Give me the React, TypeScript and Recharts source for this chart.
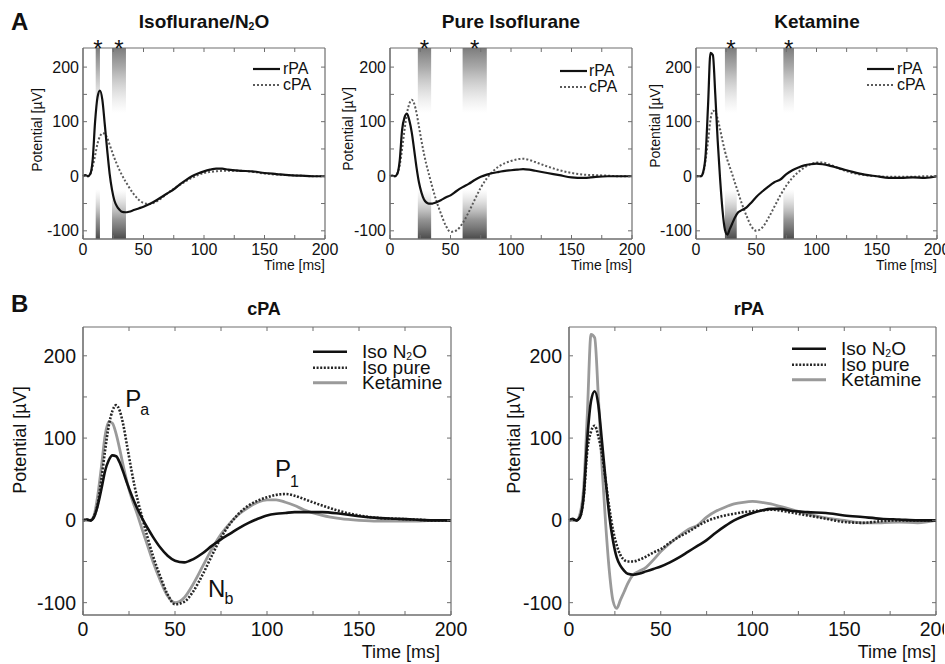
import React from 'react';
import { LineChart, Line, XAxis, YAxis, ReferenceArea, ReferenceDot, ReferenceLine, Legend } from 'recharts';

const FONT = '"Liberation Sans", Arial, Helvetica, sans-serif';

// time axis (ms)
const time = [0, 2, 4, 6, 8, 10, 12, 14, 16, 18, 20, 22, 24, 26, 28, 30, 32, 35, 38, 42, 46, 50, 55, 60, 65, 70, 75, 80, 85, 90, 95, 100, 105, 110, 115, 120, 130, 140, 150, 160, 170, 180, 190, 200];

// caudal (cPA) potentials, µV
const cpaIsoN2O = [0, 1, 0, 4, 18, 38, 60, 73, 79, 78, 70, 58, 45, 33, 22, 12, 3, -9, -20, -33, -43, -49, -51, -47, -40, -31, -23, -16, -9, -3, 2, 6, 8, 9, 10, 10, 10, 8, 5, 3, 2, 1, 0, 0];
const cpaIsoPure = [0, 1, 0, 5, 20, 50, 85, 115, 133, 140, 133, 115, 90, 65, 42, 22, 5, -20, -43, -68, -90, -102, -99, -86, -66, -43, -21, -4, 9, 18, 24, 28, 31, 32, 30, 26, 18, 11, 6, 3, 2, 1, 0, 0];
const cpaKetamine = [0, 0, 0, 6, 30, 65, 103, 120, 118, 105, 86, 65, 46, 30, 17, 4, -10, -30, -50, -73, -92, -100, -94, -77, -56, -35, -17, -3, 8, 16, 22, 25, 25, 22, 18, 13, 6, 2, 0, -1, -1, -1, 0, 0];

// rostral (rPA) potentials, µV
const rpaIsoN2O = [0, 2, 0, 4, 30, 100, 145, 157, 140, 95, 48, 5, -25, -45, -55, -61, -65, -66, -65, -62, -59, -56, -51, -45, -38, -31, -24, -15, -7, 0, 5, 9, 12, 14, 14, 12, 10, 9, 6, 4, 2, 1, 0, 0];
const rpaIsoPure = [0, 1, 0, 4, 28, 85, 108, 115, 102, 80, 48, 15, -12, -30, -42, -48, -50, -50, -48, -44, -39, -35, -27, -20, -14, -7, -1, 3, 6, 8, 10, 11, 12, 13, 12, 10, 6, 2, -2, -3, -1, 0, 0, 0];
const rpaKetamine = [0, 0, 0, 8, 40, 130, 226, 222, 150, 65, -5, -62, -98, -107, -97, -87, -77, -66, -62, -57, -48, -38, -28, -19, -11, -6, 4, 11, 16, 20, 22, 23, 22, 20, 17, 14, 8, 3, 0, -3, -3, -2, -3, 0];

// significant windows (ms) for each condition in panel A
const bandsIsoN2O = [{ x1: 10.5, x2: 14 }, { x1: 24, x2: 35.5 }];
const bandsIsoPure = [{ x1: 23, x2: 34 }, { x1: 60, x2: 80 }];
const bandsKetamine = [{ x1: 24, x2: 33.8 }, { x1: 72.5, x2: 81.3 }];

// peak labels in panel B (cPA)
const cpaNotes = [
  { x: 23, y: 138, main: 'P', sub: 'a', subDy: 8 },
  { x: 104.3, y: 53, main: 'P', sub: '1', subDy: 10 },
  { x: 68, y: -93, main: 'N', sub: 'b', subDy: 7 },
];

const xTicks = [0, 25, 50, 75, 100, 125, 150, 175, 200];
const xLabelTicks = [0, 50, 100, 150, 200];
const yTicks = [-100, -50, 0, 50, 100, 150, 200];
const yLabelTicks = [-100, 0, 100, 200];
const xDomain = [0, 200];
const yDomain = [-115, 235];

const pairRows = (r: number[], c: number[]) => time.map((t, i) => ({ t, rpa: r[i], cpa: c[i] }));
const tripleRows = (a: number[], b: number[], k: number[]) =>
  time.map((t, i) => ({ t, n2o: a[i], pure: b[i], ket: k[i] }));

const N2O = (
  <>
    N<sub style={{ fontSize: '0.55em', lineHeight: 0, verticalAlign: '-0.2em' }}>2</sub>O
  </>
);

type Series = { key: string; label: React.ReactNode; color: string; width: number; dash?: string };

const seriesA: Series[] = [
  { key: 'cpa', label: 'cPA', color: '#5a5a5a', width: 2, dash: '2 2' },
  { key: 'rpa', label: 'rPA', color: '#111', width: 2.2 },
];
const legendA: Series[] = [seriesA[1], seriesA[0]];

const seriesB: Series[] = [
  { key: 'ket', label: 'Ketamine', color: '#9a9a9a', width: 2.8 },
  { key: 'pure', label: 'Iso pure', color: '#262626', width: 2.6, dash: '2 1.6' },
  { key: 'n2o', label: <>Iso {N2O}</>, color: '#111', width: 2.6 },
];
const legendB: Series[] = [seriesB[2], seriesB[1], seriesB[0]];

function LegendBox({ items, fontSize, rowH, lineLen, gap }: any) {
  return (
    <div style={{ fontFamily: FONT, color: '#111' }}>
      {items.map((it: Series) => (
        <div key={it.key} style={{ display: 'flex', alignItems: 'center', height: rowH }}>
          <svg width={lineLen} height={rowH} style={{ display: 'block', flex: 'none' }}>
            <line x1={0} x2={lineLen} y1={rowH / 2} y2={rowH / 2} stroke={it.color} strokeWidth={it.width} strokeDasharray={it.dash} />
          </svg>
          <span style={{ marginLeft: gap, fontSize, lineHeight: `${rowH}px`, whiteSpace: 'nowrap' }}>{it.label}</span>
        </div>
      ))}
    </div>
  );
}

const noteLabel = (main: string, sub: string, subDy: number) => (props: any) => {
  const vb = props.viewBox || props;
  const x = vb.x + (vb.width || 0) / 2;
  const y = vb.y + (vb.height || 0) / 2;
  return (
    <text x={x} y={y} fill="#111" fontSize={24} fontFamily={FONT}>
      <tspan>{main}</tspan>
      <tspan fontSize={16} dx={-1} dy={subDy}>{sub}</tspan>
    </text>
  );
};

interface PanelProps {
  id: string;
  plotLeft: number; plotTop: number; plotW: number; plotH: number;
  yAxisW: number; xAxisH: number; marginRight: number;
  tickFont: number; axisFont: number; xTickMargin: number; yTickMargin: number;
  timeOffset: number;
  data: any[]; series: Series[]; legendItems: Series[];
  bands?: { x1: number; x2: number }[];
  notes?: { x: number; y: number; main: string; sub: string; subDy: number }[];
  legend: { x: number; y: number; fontSize: number; rowH: number; lineLen: number; gap: number };
  yLabel: { x: number; y: number };
}

function Panel(p: PanelProps) {
  const mTop = 20;
  const mBottom = 4;
  const originX = p.plotLeft - p.yAxisW;
  const originY = p.plotTop - mTop;
  const width = p.yAxisW + p.plotW + p.marginRight;
  const height = mTop + p.plotH + p.xAxisH + mBottom;
  const gid = `band-${p.id}`;
  const frame = '#6e6e6e';
  // inward tick length of 4px expressed in data units
  const tickY = (4 * (yDomain[1] - yDomain[0])) / p.plotH;
  const tickX = (4 * (xDomain[1] - xDomain[0])) / p.plotW;
  const innerX = xTicks.filter((t) => t > xDomain[0] && t < xDomain[1]);
  return (
    <div style={{ position: 'absolute', left: originX, top: originY }}>
      <LineChart width={width} height={height} data={p.data} margin={{ top: mTop, right: p.marginRight, bottom: mBottom, left: 0 }}>
        <defs>
          <linearGradient id={gid} x1="0" y1="0" x2="0" y2="1">
            <stop offset="0%" stopColor="#7c7c7c" stopOpacity={1} />
            <stop offset="10%" stopColor="#8c8c8c" stopOpacity={0.75} />
            <stop offset="34%" stopColor="#c0c0c0" stopOpacity={0} />
            <stop offset="74%" stopColor="#b0b0b0" stopOpacity={0} />
            <stop offset="90%" stopColor="#707070" stopOpacity={0.75} />
            <stop offset="100%" stopColor="#4a4a4a" stopOpacity={1} />
          </linearGradient>
        </defs>
        <XAxis
          dataKey="t" type="number" domain={xDomain} ticks={xTicks} interval={0}
          tickFormatter={(v: number) => (xLabelTicks.includes(v) ? String(v) : '')}
          tickSize={-4} tickMargin={p.xTickMargin} height={p.xAxisH} stroke={frame}
          tick={{ fill: '#111', fontSize: p.tickFont, fontFamily: FONT }}
          label={{ value: 'Time [ms]', position: 'insideBottomRight', offset: p.timeOffset, fontSize: p.axisFont, fill: '#111', fontFamily: FONT }}
        />
        <YAxis
          type="number" domain={yDomain} ticks={yTicks} interval={0}
          tickFormatter={(v: number) => (yLabelTicks.includes(v) ? String(v) : '')}
          tickSize={-4} tickMargin={p.yTickMargin} width={p.yAxisW} stroke={frame}
          tick={{ fill: '#111', fontSize: p.tickFont, fontFamily: FONT }}
        />
        {(p.bands || []).map((b, i) => (
          <ReferenceArea
            key={`b${i}`} x1={b.x1} x2={b.x2} y1={yDomain[0]} y2={yDomain[1]}
            fill={`url(#${gid})`} fillOpacity={1} stroke="none"
            label={{ value: '*', position: 'top', offset: -9, fontSize: 24, fill: '#111', fontFamily: FONT }}
          />
        ))}
        {p.series.map((s) => (
          <Line
            key={s.key} type="monotone" dataKey={s.key} stroke={s.color}
            strokeWidth={s.width} strokeDasharray={s.dash} dot={false} activeDot={false} isAnimationActive={false}
          />
        ))}
        <ReferenceLine y={yDomain[1]} stroke={frame} strokeWidth={1.2} />
        <ReferenceLine x={xDomain[1]} stroke={frame} strokeWidth={1.2} />
        <ReferenceLine y={yDomain[0]} stroke={frame} strokeWidth={1.2} />
        <ReferenceLine x={xDomain[0]} stroke={frame} strokeWidth={1.2} />
        {innerX.map((t) => (
          <ReferenceLine key={`tt${t}`} segment={[{ x: t, y: yDomain[1] }, { x: t, y: yDomain[1] - tickY }]} stroke={frame} strokeWidth={1} />
        ))}
        {yTicks.map((v) => (
          <ReferenceLine key={`rt${v}`} segment={[{ x: xDomain[1], y: v }, { x: xDomain[1] - tickX, y: v }]} stroke={frame} strokeWidth={1} />
        ))}
        {(p.notes || []).map((n, i) => (
          <ReferenceDot key={`n${i}`} x={n.x} y={n.y} r={1} fill="none" stroke="none" label={noteLabel(n.main, n.sub, n.subDy)} />
        ))}
        <Legend
          layout="vertical" align="center" verticalAlign="middle"
          wrapperStyle={{ left: p.legend.x - originX, top: p.legend.y - originY, width: 170, height: 'auto' }}
          content={() => <LegendBox items={p.legendItems} fontSize={p.legend.fontSize} rowH={p.legend.rowH} lineLen={p.legend.lineLen} gap={p.legend.gap} />}
        />
      </LineChart>
      <div
        style={{
          position: 'absolute', left: p.yLabel.x - originX, top: p.yLabel.y - originY,
          transform: 'translate(-50%, -50%) rotate(-90deg)', whiteSpace: 'nowrap',
          fontSize: p.axisFont, fontFamily: FONT, color: '#111', lineHeight: 1,
        }}
      >
        Potential [µV]
      </div>
    </div>
  );
}

const aCommon = {
  plotTop: 48, plotH: 191, yAxisW: 50, xAxisH: 31, tickFont: 16, axisFont: 14,
  xTickMargin: 9, yTickMargin: 8, timeOffset: 0, series: seriesA, legendItems: legendA,
};
const bCommon = {
  plotTop: 327, plotH: 288, tickFont: 19.5, axisFont: 18, xTickMargin: 11, yTickMargin: 11,
  series: seriesB, legendItems: legendB,
};

const heading = (text: React.ReactNode, cx: number, top: number, size: number) => (
  <div style={{ position: 'absolute', left: cx - 150, width: 300, top, textAlign: 'center', fontWeight: 'bold', fontSize: size, lineHeight: 1, fontFamily: FONT, color: '#111' }}>
    {text}
  </div>
);

export default function App() {
  return (
    <div style={{ position: 'absolute', left: 0, top: 0, width: 945, height: 664, overflow: 'hidden', background: '#fff', fontFamily: FONT }}>
      <div style={{ position: 'absolute', left: 11, top: 10, fontWeight: 'bold', fontSize: 24, lineHeight: 1, color: '#111' }}>A</div>
      <div style={{ position: 'absolute', left: 11, top: 292, fontWeight: 'bold', fontSize: 24, lineHeight: 1, color: '#111' }}>B</div>
      {heading(<>Isoflurane/{N2O}</>, 204, 12, 19)}
      {heading('Pure Isoflurane', 511, 12, 19)}
      {heading('Ketamine', 817, 12, 19)}
      {heading('cPA', 264, 300, 18)}
      {heading('rPA', 749, 300, 18)}

      <Panel
        id="a1" {...aCommon} plotLeft={83} plotW={242} marginRight={16}
        data={pairRows(rpaIsoN2O, cpaIsoN2O)} bands={bandsIsoN2O}
        legend={{ x: 253, y: 61, fontSize: 16, rowH: 16, lineLen: 27, gap: 3 }}
        yLabel={{ x: 37, y: 130 }}
      />
      <Panel
        id="a2" {...aCommon} plotLeft={390} plotW={242} marginRight={16}
        data={pairRows(rpaIsoPure, cpaIsoPure)} bands={bandsIsoPure}
        legend={{ x: 560, y: 63, fontSize: 16, rowH: 16, lineLen: 27, gap: 2 }}
        yLabel={{ x: 348, y: 129 }}
      />
      <Panel
        id="a3" {...aCommon} plotLeft={696} plotW={241} marginRight={8}
        data={pairRows(rpaKetamine, cpaKetamine)} bands={bandsKetamine}
        legend={{ x: 867, y: 61, fontSize: 16, rowH: 16, lineLen: 27, gap: 3 }}
        yLabel={{ x: 655, y: 126 }}
      />
      <Panel
        id="b1" {...bCommon} plotLeft={83} plotW={368} yAxisW={70} xAxisH={54} marginRight={16} timeOffset={11}
        data={tripleRows(cpaIsoN2O, cpaIsoPure, cpaKetamine)} notes={cpaNotes}
        legend={{ x: 313, y: 344, fontSize: 19, rowH: 15.5, lineLen: 34, gap: 15 }}
        yLabel={{ x: 20, y: 440 }}
      />
      <Panel
        id="b2" {...bCommon} plotLeft={569} plotW={367} yAxisW={62} xAxisH={43} marginRight={8} timeOffset={0}
        data={tripleRows(rpaIsoN2O, rpaIsoPure, rpaKetamine)}
        legend={{ x: 792, y: 341, fontSize: 19, rowH: 15.5, lineLen: 34, gap: 15 }}
        yLabel={{ x: 514, y: 440 }}
      />
    </div>
  );
}
